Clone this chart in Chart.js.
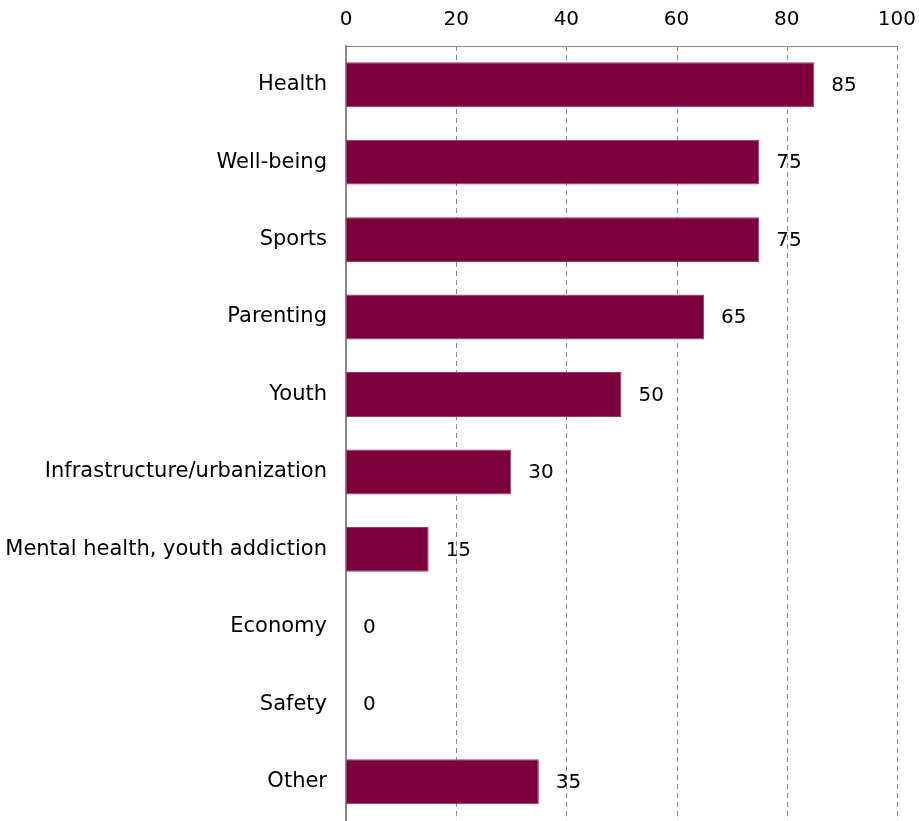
<!DOCTYPE html>
<html>
<head>
<meta charset="utf-8">
<script src="https://cdn.jsdelivr.net/npm/chart.js@4"></script>
<style>
  html, body { margin: 0; padding: 0; background: #fff; }
  #wrap { width: 919px; height: 821px; overflow: hidden; }
  canvas { display: block; }
</style>
</head>
<body>
<div id="wrap"><canvas id="chart" width="930" height="852"></canvas></div>
<script>
const categories = ['Health', 'Well-being', 'Sports', 'Parenting', 'Youth',
  'Infrastructure/urbanization', 'Mental health, youth addiction', 'Economy', 'Safety', 'Other'];
const values = [85, 75, 75, 65, 50, 30, 15, 0, 0, 35];
const xTicks = [0, 20, 40, 60, 80, 100];

const FONT = 'DejaVu Sans';
const GRID = '#8a8a8a';

// draws value labels to the right of every bar
const valueLabels = {
  id: 'valueLabels',
  afterDatasetsDraw(chart) {
    const ctx = chart.ctx;
    const meta = chart.getDatasetMeta(0);
    ctx.save();
    ctx.font = '20px "' + FONT + '"';
    ctx.fillStyle = '#000';
    ctx.textAlign = 'left';
    ctx.textBaseline = 'middle';
    meta.data.forEach((bar, i) => {
      ctx.fillText(String(values[i]), bar.x + 17, bar.y + 1);
    });
    ctx.restore();
  }
};

// dashed vertical grid plus the top axis line
const dashedGrid = {
  id: 'dashedGrid',
  beforeDatasetsDraw(chart) {
    const { ctx, chartArea, scales } = chart;
    ctx.save();
    ctx.strokeStyle = GRID;
    ctx.lineWidth = 1;
    ctx.setLineDash([5, 4]);
    xTicks.slice(1).forEach(v => {
      const x = Math.round(scales.x.getPixelForValue(v)) + 0.5;
      ctx.beginPath();
      ctx.moveTo(x, chartArea.top);
      ctx.lineTo(x, chartArea.bottom);
      ctx.stroke();
    });
    ctx.setLineDash([]);
    const top = Math.round(chartArea.top) + 0.5;
    ctx.beginPath();
    ctx.moveTo(chartArea.left, top);
    ctx.lineTo(Math.round(chartArea.right) + 1, top);
    ctx.stroke();
    ctx.restore();
  }
};

new Chart(document.getElementById('chart'), {
  type: 'bar',
  data: {
    labels: categories,
    datasets: [{
      data: values,
      backgroundColor: '#7b003c',
      borderColor: '#9a3a68',
      borderWidth: 1,
      borderSkipped: false,
      categoryPercentage: 1,
      barPercentage: 0.58
    }]
  },
  options: {
    indexAxis: 'y',
    responsive: false,
    animation: false,
    layout: { padding: { top: 0, right: 9, bottom: 0, left: 0 } },
    plugins: {
      legend: { display: false },
      tooltip: { enabled: false }
    },
    scales: {
      x: {
        position: 'top',
        min: 0,
        max: 100,
        afterBuildTicks: axis => { axis.ticks = xTicks.map(v => ({ value: v })); },
        afterFit: axis => { axis.height = 46; },
        grid: { display: false, drawTicks: false },
        border: { display: false },
        ticks: {
          color: '#000',
          padding: 14,
          font: { family: FONT, size: 20 }
        }
      },
      y: {
        afterFit: axis => { axis.width = 346; },
        grid: { display: false, drawTicks: false },
        border: { display: true, color: GRID, width: 2 },
        ticks: {
          color: '#000',
          padding: 19,
          font: { family: FONT, size: 21 }
        }
      }
    }
  },
  plugins: [dashedGrid, valueLabels]
});
</script>
</body>
</html>
